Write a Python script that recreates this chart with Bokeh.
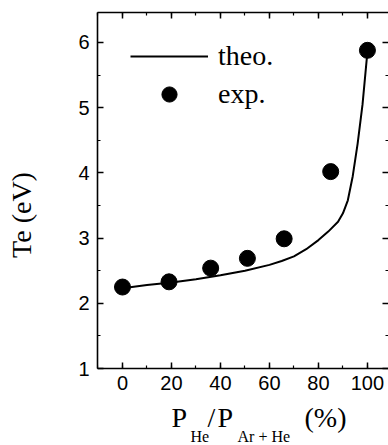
from bokeh.plotting import figure
from bokeh.models import (LinearAxis, SingleIntervalTicker, Range1d, Label,
                          Legend, LegendItem, CustomJSTickFormatter)
from bokeh.embed import file_html
from bokeh.resources import INLINE

# experimental points
exp_x = [0, 19, 36, 51, 66, 85, 100]
exp_y = [2.25, 2.33, 2.54, 2.69, 2.99, 4.02, 5.88]

# theoretical curve
theo_x = [0, 10, 20, 30, 40, 50, 60, 65, 70, 75, 80, 84, 88, 90, 92, 94, 96, 98, 100]
theo_y = [2.23, 2.28, 2.32, 2.37, 2.43, 2.50, 2.59, 2.65, 2.72, 2.83, 2.97, 3.10,
          3.25, 3.38, 3.58, 3.95, 4.45, 5.05, 5.86]

x_tick_step = 20
y_tick_step = 1
y_axis_min, y_axis_max = 1, 6.46

# x-axis title pieces (text, is_subscript)
xlabel_parts = ["P", "He", "/", "P", "Ar + He", "(%)"]
xlabel_sub = [False, True, False, False, True, False]
y_title = "Te (eV)"

SERIF = "Liberation Serif"
SANS = "Liberation Sans"

# the frame reaches the page bottom so that the axis title can sit inside it;
# the visible x axis is pinned at y = 1
p = figure(width=388, height=445,
           x_range=Range1d(-10.2, 108.6), y_range=Range1d(-0.18, y_axis_max),
           output_backend="svg", toolbar_location=None,
           min_border_left=97, min_border_right=0,
           min_border_top=12, min_border_bottom=0)
p.background_fill_color = "white"
p.border_fill_color = "white"
p.outline_line_color = None
p.xgrid.visible = False
p.ygrid.visible = False


def style(ax, labels=True):
    ax.axis_line_width = 1.6
    ax.axis_line_color = "black"
    ax.major_tick_in = 6
    ax.major_tick_out = 0
    ax.minor_tick_in = 3
    ax.minor_tick_out = 0
    ax.major_tick_line_width = 1.5
    ax.minor_tick_line_width = 1.2
    ax.major_tick_line_color = "black"
    ax.minor_tick_line_color = "black"
    ax.major_label_text_font = SANS
    ax.major_label_text_font_size = "20px"
    ax.major_label_text_color = "black"
    if not labels:
        ax.formatter = CustomJSTickFormatter(code="return ''")
        ax.major_label_text_font_size = "1px"
        ax.major_label_standoff = 0


xb = p.xaxis[0]
xb.ticker = SingleIntervalTicker(interval=x_tick_step, num_minor_ticks=2)
style(xb)
xb.major_label_standoff = 7
xb.fixed_location = y_axis_min

yl = p.yaxis[0]
yl.ticker = SingleIntervalTicker(interval=y_tick_step, num_minor_ticks=2)
style(yl)
yl.bounds = (y_axis_min, y_axis_max)
yl.major_label_standoff = 8
# leading no-break spaces shift the centred title upwards
yl.axis_label = "\u00a0" * 4 + y_title
yl.axis_label_text_font = SERIF
yl.axis_label_text_font_size = "28px"
yl.axis_label_text_font_style = "normal"
yl.axis_label_text_color = "black"
yl.axis_label_standoff = 38

xt = LinearAxis(ticker=SingleIntervalTicker(interval=x_tick_step, num_minor_ticks=2))
style(xt, labels=False)
p.add_layout(xt, "above")
yr = LinearAxis(ticker=SingleIntervalTicker(interval=y_tick_step, num_minor_ticks=2))
style(yr, labels=False)
yr.bounds = (y_axis_min, y_axis_max)
yr.axis_line_color = None
p.add_layout(yr, "right")

line_r = p.line(theo_x, theo_y, line_color="black", line_width=2)
dot_r = p.scatter(exp_x, exp_y, size=16, fill_color="black", line_color="black")

legend = Legend(items=[LegendItem(label="theo.", renderers=[line_r]),
                       LegendItem(label="exp.", renderers=[dot_r])],
                location=(33, 332), glyph_width=78, glyph_height=38,
                label_height=38, spacing=0, label_standoff=10,
                padding=0, margin=0, border_line_alpha=0,
                background_fill_alpha=0,
                label_text_font=SERIF,
                label_text_font_size="28px", label_text_color="black")
p.add_layout(legend)

# x axis title with subscripts: screen offsets from the frame's bottom-left corner
part_x = [74, 93, 110, 120, 140, 207]
main_base, sub_base = 28, 9
for txt, sub, sx in zip(xlabel_parts, xlabel_sub, part_x):
    p.add_layout(Label(x=sx, y=sub_base if sub else main_base,
                       x_units="screen", y_units="screen", text=txt,
                       text_font=SERIF, text_font_size="16px" if sub else "28px",
                       text_color="black", text_align="left",
                       text_baseline="alphabetic"))

open("out.html", "w").write(file_html(p, INLINE))
